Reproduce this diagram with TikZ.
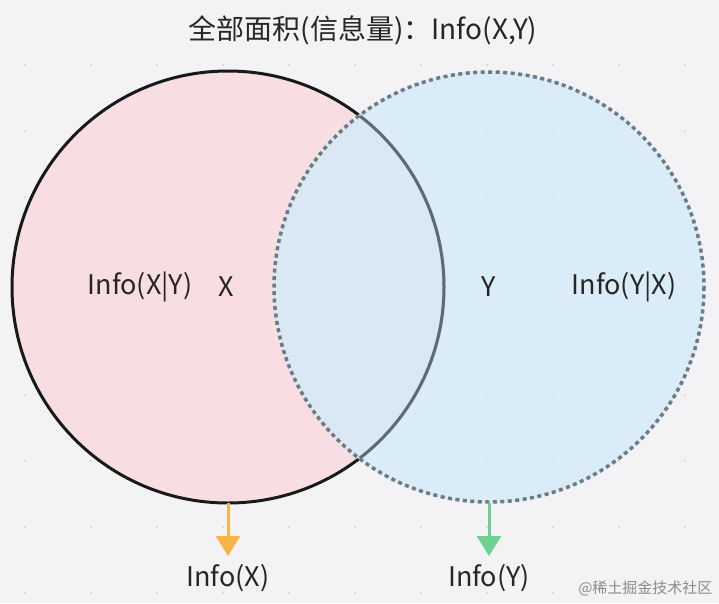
\documentclass[tikz,border=0pt]{standalone}
\usepackage{fontspec}
\setmainfont{Noto Sans CJK SC}
\usetikzlibrary{arrows.meta}
\definecolor{bg}{HTML}{F3F3F5}
\definecolor{pinkf}{HTML}{F8DEE2}
\definecolor{bluef}{HTML}{D3EBF8}
\definecolor{dotc}{HTML}{6E7A84}
\definecolor{orng}{HTML}{F7B548}
\definecolor{grn}{HTML}{6ED190}
\definecolor{ovl}{HTML}{5F6A72}
\tikzset{lbl/.style={font=\fontsize{27}{32}\selectfont, text=black!85},
  arr/.style={line width=3pt,-{Triangle[length=20pt,width=24pt]}}}
\begin{document}
\begin{tikzpicture}[x=1pt,y=-1pt]
\fill[bg] (0,0) rectangle (719,603);
\useasboundingbox (0,0) rectangle (719,603);
\foreach \i in {0,...,10}{\foreach \j in {0,...,9}{\fill[black!18] (25+66*\i,65+66*\j) circle (1.2);}}
\node[draw=none,fill=pinkf,circle,minimum size=432pt,inner sep=0] (L) at (228,287) {};
\draw[black!90,line width=3pt] (228,287) circle (216);
\node[circle,minimum size=432pt,inner sep=0,fill=bluef,fill opacity=0.8] (R) at (489,287) {};
\begin{scope}
\clip (489,287) circle (214);
\draw[ovl,line width=3pt] (228,287) circle (216);
\end{scope}
\draw[dotc,line width=3.5pt,dash pattern=on 4pt off 3.5pt] (489,287) circle (215);
\node[lbl,font=\fontsize{28}{32}\selectfont] (t) at (363,30) {全部面积(信息量)：Info(X,Y)};
\node[lbl] (a) at (140,287) {Info(X|Y)};
\node[lbl] (b) at (226,287) {X};
\node[lbl] (c) at (489,287) {Y};
\node[lbl] (d) at (624,287) {Info(Y|X)};
\node[lbl] (ix) at (228,578) {Info(X)};
\node[lbl] (iy) at (489,578) {Info(Y)};
\draw[arr,orng] (L.south) -- (228,556);
\draw[arr,grn] (R.south) -- (489,556);
\node[text=black!45,font=\fontsize{15}{18}\selectfont,anchor=east] (w) at (716,588) {@稀土掘金技术社区};
\end{tikzpicture}
\end{document}
